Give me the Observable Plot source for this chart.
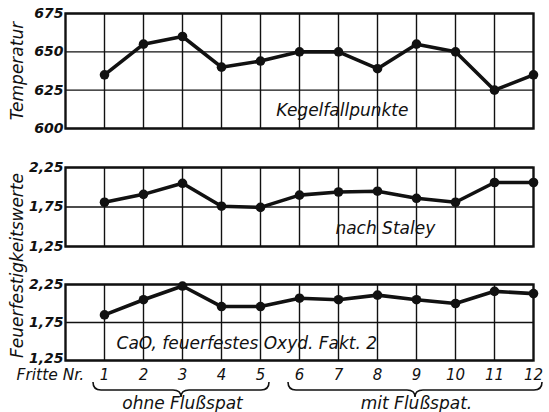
<!DOCTYPE html>
<html>
<head>
<meta charset="utf-8">
<script src="https://cdn.jsdelivr.net/npm/d3@7"></script>
<script src="https://cdn.jsdelivr.net/npm/@observablehq/plot@0.6"></script>
<style>
  html, body { margin: 0; padding: 0; background: #fff; }
  #chart { position: relative; width: 549px; height: 412px; overflow: hidden; background: #fff; }
  #chart svg { position: absolute; left: 0; overflow: visible !important; background: transparent !important; max-width: none !important; }
</style>
</head>
<body>
<div id="chart"></div>
<script>
// ---- data ----
const fritten = [1, 2, 3, 4, 5, 6, 7, 8, 9, 10, 11, 12];
const kegelfallpunkte = [635, 655, 660, 640, 644, 650, 650, 639, 655, 650, 625, 635];
const nachStaley = [1.81, 1.91, 2.05, 1.76, 1.745, 1.90, 1.94, 1.95, 1.86, 1.81, 2.06, 2.06];
const caoFakt2 = [1.85, 2.05, 2.23, 1.96, 1.96, 2.07, 2.05, 2.11, 2.05, 2.00, 2.16, 2.13];
const tempTicks = [600, 625, 650, 675];
const feuerTicks = [1.25, 1.75, 2.25];
const gruppenText = ["ohne Flußspat", "mit Flußspat."];
const gruppenVon = [1, 6];
const gruppenBis = [5, 12];

const FONT = '"DejaVu Sans", "Liberation Sans", sans-serif';
const INK = "#111";
const comma = d => d3.format(".2f")(d).replace(".", ",");

function panel(opts) {
  const { values, ticks, domain, fmt, top, height, mt, mb, lowDy = 0, extra = [] } = opts;
  const data = fritten.map((f, i) => ({ f, v: values[i] }));
  const svg = Plot.plot({
    width: 549,
    height,
    marginTop: mt,
    marginBottom: mb,
    marginLeft: 65,
    marginRight: 16,
    style: { fontFamily: FONT, background: "transparent", overflow: "visible", color: INK },
    x: { domain: [0, 12], axis: null },
    y: { domain, axis: null },
    marks: [
      Plot.ruleX(d3.range(1, 12), { stroke: INK, strokeWidth: 1.4 }),
      Plot.ruleY(ticks, { stroke: INK, strokeWidth: 1.4 }),
      Plot.frame({ stroke: INK, strokeWidth: 2.4 }),
      Plot.text(ticks.slice(1), {
        y: d => d, frameAnchor: "left", textAnchor: "end", dx: -2,
        text: fmt, fontSize: 14, fontWeight: "bold", fontStyle: "italic", fill: INK
      }),
      Plot.text(ticks.slice(0, 1), {
        y: d => d, frameAnchor: "left", textAnchor: "end", dx: -2, dy: lowDy,
        text: fmt, fontSize: 14, fontWeight: "bold", fontStyle: "italic", fill: INK
      }),
      Plot.line(data, { x: "f", y: "v", stroke: INK, strokeWidth: 3.6, strokeLinejoin: "round" }),
      Plot.dot(data, { x: "f", y: "v", r: 4.8, fill: INK, stroke: "none" }),
      ...extra
    ]
  });
  svg.style.top = top + "px";
  document.getElementById("chart").appendChild(svg);
  return svg;
}

function bracePath(x0, x1, yTop, yMid, yTip) {
  const xm = (x0 + x1) / 2, r = 8;
  return `M${x0},${yTop} Q${x0},${yMid} ${x0 + r},${yMid} L${xm - r},${yMid} Q${xm},${yMid} ${xm},${yTip}` +
         ` Q${xm},${yMid} ${xm + r},${yMid} L${x1 - r},${yMid} Q${x1},${yMid} ${x1},${yTop}`;
}

// top panel: temperature
panel({
  values: kegelfallpunkte, ticks: tempTicks, domain: [600, 675], fmt: d => String(d),
  top: 0, height: 140, mt: 13, mb: 12,
  extra: [
    Plot.text(["Kegelfallpunkte"], { x: 7.1, y: 611.5, text: d => d, fontSize: 17, fontStyle: "italic", fill: INK }),
    Plot.text(["Temperatur"], { frameAnchor: "left", textAnchor: "middle", dx: -48, text: d => d, rotate: -90, fontSize: 17, fontStyle: "italic", fill: INK })
  ]
});

// middle panel: nach Staley
panel({
  values: nachStaley, ticks: feuerTicks, domain: [1.25, 2.25], fmt: comma,
  top: 140, height: 120, mt: 27, mb: 14,
  extra: [
    Plot.text(["nach Staley"], { x: 8.2, y: 1.48, text: d => d, fontSize: 17, fontStyle: "italic", fill: INK }),
    Plot.text(["Feuerfestigkeitswerte"], { frameAnchor: "left", textAnchor: "middle", dx: -48, dy: 58.5, text: d => d, rotate: -90, fontSize: 17, fontStyle: "italic", fill: INK })
  ]
});

// bottom panel: CaO Faktor 2 with x axis and groups
const gruppen = gruppenText.map((t, i) => ({ t, von: gruppenVon[i], bis: gruppenBis[i] }));
panel({
  values: caoFakt2, ticks: feuerTicks, domain: [1.25, 2.25], fmt: comma,
  top: 260, height: 152, mt: 24, mb: 52, lowDy: -2,
  extra: [
    Plot.text(["CaO, feuerfestes Oxyd. Fakt. 2"], { x: 4.65, y: 1.475, text: d => d, fontSize: 17, fontStyle: "italic", fill: INK }),
    Plot.text(fritten, { x: d => d, frameAnchor: "bottom", dy: 19, text: d => String(d), fontSize: 15, fontStyle: "italic", fill: INK }),
    Plot.text(["Fritte Nr."], { frameAnchor: "bottom-left", textAnchor: "start", dx: -49, dy: 19, text: d => d, fontSize: 15.5, fontStyle: "italic", fill: INK }),
    Plot.text(gruppen, { x: d => (d.von + d.bis) / 2, frameAnchor: "bottom", dy: 48, text: "t", fontSize: 17, fontStyle: "italic", fill: INK }),
    (index, scales, values, dimensions) => {
      const { height, marginBottom } = dimensions;
      const yb = height - marginBottom;
      const g = d3.create("svg:g");
      for (const d of gruppen) {
        g.append("path")
          .attr("d", bracePath(scales.x(d.von) - 11, scales.x(d.bis) + 9, yb + 22, yb + 30, yb + 37))
          .attr("fill", "none").attr("stroke", INK).attr("stroke-width", 1.6);
      }
      return g.node();
    }
  ]
});
</script>
</body>
</html>
